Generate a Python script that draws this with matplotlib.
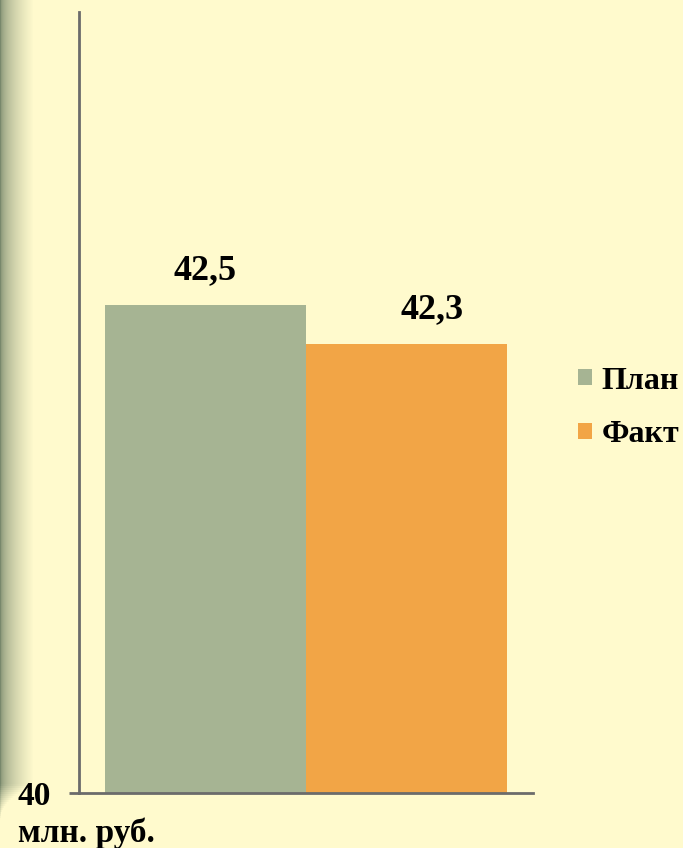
import numpy as np
import matplotlib.pyplot as plt

# Данные
series = ['План', 'Факт']
values = [42.5, 42.3]
labels = ['42,5', '42,3']
colors = ['#A6B493', '#F2A546']
bg = '#FFFACD'

plt.rcParams['font.family'] = ['Liberation Serif', 'DejaVu Serif']
plt.rcParams['font.weight'] = 'bold'

W, H = 683, 848
fig = plt.figure(figsize=(W / 100, H / 100), dpi=100, facecolor=bg)

# полоса-градиент слева
gx = np.linspace(0, 1, 34)
gy = np.linspace(0, 1, 424)
X, Y = np.meshgrid(gx, gy)
fade_x = X ** 0.5
yy = Y * H  # 0 = верх
fade_y = np.clip((yy - 785) / 35, 0, 1)
t = np.clip(fade_x + fade_y, 0, 1)
dark = np.array([0x78, 0x88, 0x6c]) / 255
light = np.array([0xFF, 0xFA, 0xCD]) / 255
img = dark[None, None, :] * (1 - t[..., None]) + light[None, None, :] * t[..., None]
gax = fig.add_axes([0, 0, 34 / W, 1])
gax.imshow(img, aspect='auto', extent=[0, 1, 0, 1], origin='upper',
           interpolation='nearest')
gax.axis('off')

ax = fig.add_axes([79 / W, 55 / H, (533 - 79) / W, (836 - 55) / H])
ax.set_facecolor('none')
width = 0.443
pos = [-width / 2, width / 2]
offsets = [0, 26]
for p, v, c, lab, s, dx in zip(pos, values, colors, labels, series, offsets):
    ax.bar(p, v - 40, bottom=40, width=width, color=c, label=s)
    ax.annotate(lab, (p, v), xytext=(dx * 0.72, 13), textcoords='offset points',
                ha='center', va='bottom', fontsize=26, fontweight='bold')

ax.set_xlim(-0.5, 0.5)
ax.set_ylim(40, 44)
ax.set_xticks([])
ax.set_yticks([40])
ax.set_yticklabels(['40'], fontsize=24, fontweight='bold')
ax.tick_params(axis='y', length=7.5, width=2, color='#6b6b6b', pad=13)
for sp in ['top', 'right']:
    ax.spines[sp].set_visible(False)
for sp in ['left', 'bottom']:
    ax.spines[sp].set_color('#6b6b6b')
    ax.spines[sp].set_linewidth(2)

ax.legend(loc='center left', bbox_to_anchor=(1.10, 0.493), frameon=False,
          prop={'size': 23, 'weight': 'bold'}, handlelength=0.42, handleheight=0.42,
          handletextpad=0.3, labelspacing=0.78, borderaxespad=0, borderpad=0)

fig.text(18 / W, 1 - 833 / H, 'млн. руб.', fontsize=24, fontweight='bold', va='center')

fig.savefig('out.png', dpi=100, facecolor=bg)
